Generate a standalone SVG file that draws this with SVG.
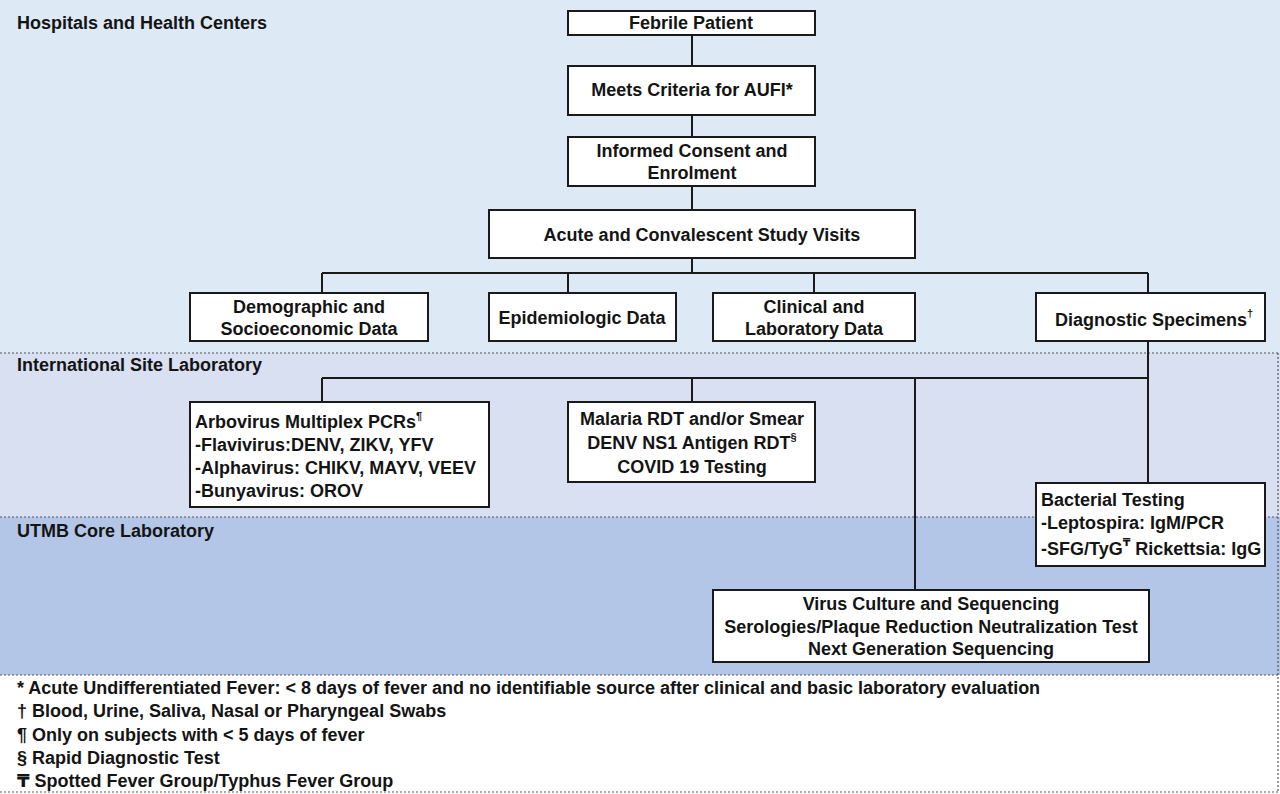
<svg xmlns="http://www.w3.org/2000/svg" width="1280" height="794" viewBox="0 0 1280 794">
<style>
text{font-family:"Liberation Sans",Arial,"DejaVu Sans",sans-serif;font-weight:bold;font-size:18px;fill:#141414}
.c{text-anchor:middle}
.box{fill:#fff;stroke:#1a1a1a;stroke-width:2}
.dot{stroke:#555;stroke-width:1.2;stroke-dasharray:2 2;fill:none}
.ln{stroke:#1a1a1a;stroke-width:2;fill:none}
.sup{font-size:11px}
</style>
<rect x="0" y="0" width="1280" height="353" fill="#dde9f5"/>
<rect x="0" y="353" width="1280" height="164" fill="#d9e0f1"/>
<rect x="0" y="517" width="1280" height="158" fill="#b4c6e7"/>
<rect x="0" y="675" width="1280" height="119" fill="#ffffff"/>
<line class="dot" x1="0" y1="353" x2="1280" y2="353"/>
<line class="dot" x1="0" y1="517" x2="1280" y2="517"/>
<line class="dot" x1="0" y1="675" x2="1280" y2="675"/>
<line class="dot" x1="0" y1="792" x2="1280" y2="792"/>
<line class="dot" x1="1278" y1="353" x2="1278" y2="792"/>
<text x="17" y="29">Hospitals and Health Centers</text>
<text x="17" y="371">International Site Laboratory</text>
<text x="17" y="537">UTMB Core Laboratory</text>
<g id="connectors">
<path class="ln" d="M692 35V66M692 115V137M692 186V210M692 258V273M322 273H1148M322 273V293M568 273V293M814 273V293M1148 273V293"/>
<path class="ln" d="M1148 341V483M322 378H1148M322 378V402M692 378V402M915 378V590"/>
</g>
<g id="febrile"><rect class="box" x="568" y="11" width="247" height="24"/><text class="c" x="691" y="29">Febrile Patient</text></g>
<g id="aufi"><rect class="box" x="568" y="66" width="247" height="49"/><text class="c" x="692" y="96">Meets Criteria for AUFI*</text></g>
<g id="consent"><rect class="box" x="568" y="137" width="247" height="49"/><text class="c" x="692" y="157">Informed Consent and</text><text class="c" x="692" y="179">Enrolment</text></g>
<g id="visits"><rect class="box" x="489" y="210" width="426" height="48"/><text class="c" x="702" y="241">Acute and Convalescent Study Visits</text></g>
<g id="demographic"><rect class="box" x="190" y="293" width="238" height="48"/><text class="c" x="309" y="313">Demographic and</text><text class="c" x="309" y="335">Socioeconomic Data</text></g>
<g id="epidemiologic"><rect class="box" x="489" y="293" width="187" height="48"/><text class="c" x="582" y="324">Epidemiologic Data</text></g>
<g id="clinical"><rect class="box" x="713" y="293" width="202" height="48"/><text class="c" x="814" y="313">Clinical and</text><text class="c" x="814" y="335">Laboratory Data</text></g>
<g id="specimens"><rect class="box" x="1036" y="293" width="229" height="48"/><text x="1055" y="326">Diagnostic Specimens<tspan class="sup" dy="-9">†</tspan></text></g>
<g id="arbovirus"><rect class="box" x="190" y="402" width="299" height="105"/>
<text x="195" y="428">Arbovirus Multiplex PCRs<tspan class="sup" dy="-8">¶</tspan></text>
<text x="195" y="451">-Flavivirus:DENV, ZIKV, YFV</text>
<text x="195" y="474">-Alphavirus: CHIKV, MAYV, VEEV</text>
<text x="195" y="497">-Bunyavirus: OROV</text></g>
<g id="malaria"><rect class="box" x="568" y="402" width="247" height="80"/>
<text class="c" x="692" y="425">Malaria RDT and/or Smear</text>
<text class="c" x="692" y="449">DENV NS1 Antigen RDT<tspan class="sup" dy="-8">§</tspan></text>
<text class="c" x="692" y="473">COVID 19 Testing</text></g>
<g id="bacterial"><rect class="box" x="1036" y="483" width="229" height="83"/>
<text x="1041" y="506">Bacterial Testing</text>
<text x="1041" y="529">-Leptospira: IgM/PCR</text>
<text x="1041" y="555">-SFG/TyG<tspan class="sup" dy="-9">₸</tspan><tspan dy="9"> Rickettsia: IgG</tspan></text></g>
<g id="culture"><rect class="box" x="713" y="590" width="436" height="72"/>
<text class="c" x="931" y="610">Virus Culture and Sequencing</text>
<text class="c" x="931" y="633">Serologies/Plaque Reduction Neutralization Test</text>
<text class="c" x="931" y="655">Next Generation Sequencing</text></g>
<g id="footnotes">
<text x="17" y="694">* Acute Undifferentiated Fever: &lt; 8 days of fever and no identifiable source after clinical and basic laboratory evaluation</text>
<text x="17" y="717">† Blood, Urine, Saliva, Nasal or Pharyngeal Swabs</text>
<text x="17" y="741">¶ Only on subjects with &lt; 5 days of fever</text>
<text x="17" y="764">§ Rapid Diagnostic Test</text>
<text x="17" y="787">₸ Spotted Fever Group/Typhus Fever Group</text>
</g>
</svg>
